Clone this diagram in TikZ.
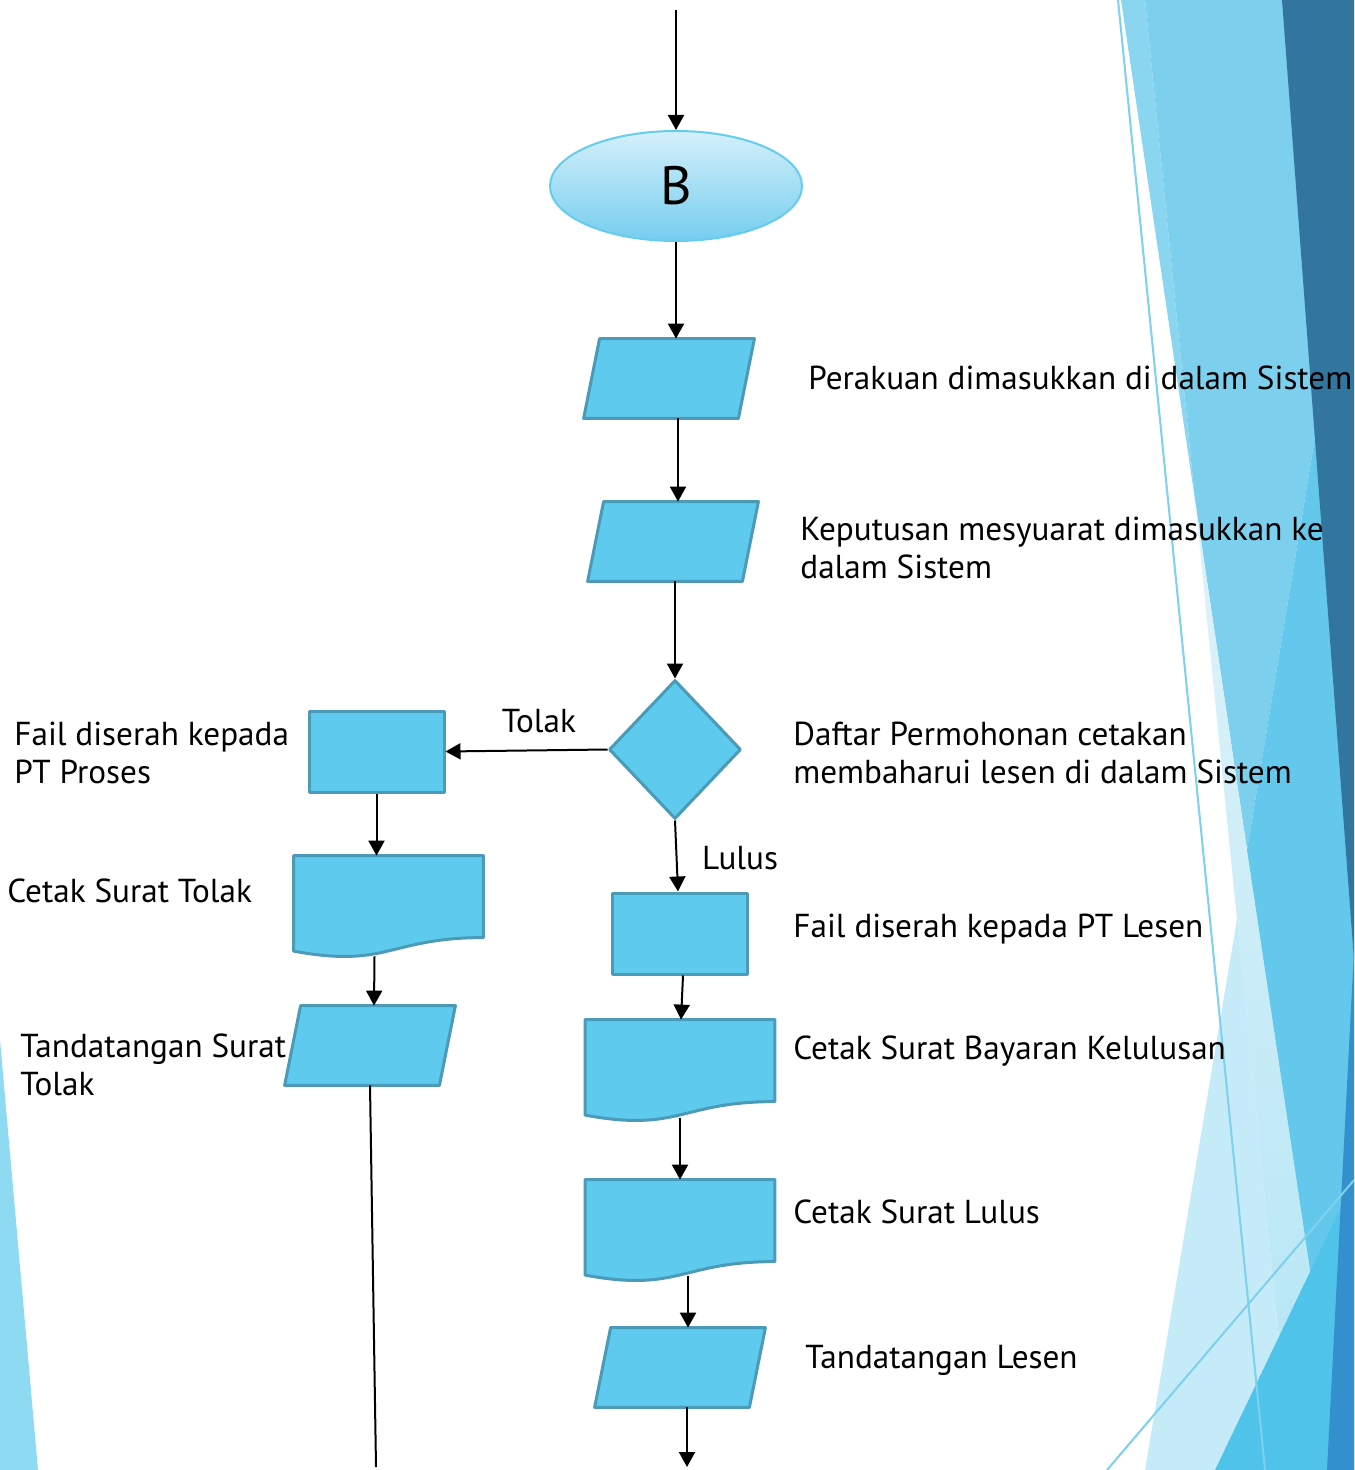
\documentclass[tikz,border=0pt]{standalone}
\usepackage{fontspec}
\setmainfont{PT Sans}
\usetikzlibrary{shapes.geometric,arrows.meta,calc}
\definecolor{boxfill}{HTML}{5ECBEE}
\definecolor{boxline}{HTML}{4A9AB8}
\definecolor{ellline}{HTML}{66CCEE}
\definecolor{elltop}{HTML}{D4F0FA}
\definecolor{ellbot}{HTML}{75CDEF}
\definecolor{bgA}{HTML}{7CCFED}
\definecolor{bgB}{HTML}{64C8EC}
\definecolor{bgT}{HTML}{8AD6F1}
\definecolor{bgP}{HTML}{DFF3FA}
\definecolor{bgLb}{HTML}{B3E5F5}
\definecolor{bgL}{HTML}{C5EBF8}
\definecolor{bgDark}{HTML}{3276A0}
\definecolor{bgD}{HTML}{3490CD}
\definecolor{bgC}{HTML}{4FC3EA}
\definecolor{bgLine}{HTML}{7DD1EE}
\definecolor{bgLeft}{HTML}{8DDAF2}
\begin{document}
\begin{tikzpicture}[x=0.5pt,y=-0.5pt,
  box/.style={draw=boxline,fill=boxfill,line width=1.5pt,line join=round,inner sep=0pt},
  rectbox/.style={box,rectangle,minimum width=67.5pt,minimum height=40.5pt},
  parbox/.style={rectangle,draw=none,inner sep=0pt,minimum width=85pt,minimum height=39.5pt},
  decbox/.style={box,diamond,minimum width=66pt,minimum height=69.5pt},
  docbox/.style={rectangle,draw=none,inner sep=0pt,minimum width=94.5pt,minimum height=51pt},
  docpath/.style={draw=boxline,fill=boxfill,line width=1.5pt,line join=round},
  lbl/.style={anchor=west,inner sep=0pt,align=left,font=\fontsize{16.6}{19}\selectfont},
  clbl/.style={inner sep=0pt,font=\fontsize{16.6}{19}\selectfont},
  conn/.style={draw=black,line width=1pt,-{Triangle[width=8pt,length=7.5pt]}},
  plain/.style={draw=black,line width=1pt}]
\path[use as bounding box] (0,0) rectangle (1354,1470);
% ---------- background decoration ----------
\begin{scope}
\clip (0,0) rectangle (1354,1470);
\fill[bgA] (1145,0) -- (1354,0) -- (1354,200) -- (1247,850) -- (1195,500) -- cycle;
\fill[bgT] (1121,0) -- (1145,0) -- (1195,500) -- cycle;
\shade[top color=bgP,bottom color=bgLb] (1195,500) -- (1247,850) -- (1340,1470) -- (1292,1470) -- cycle;
\fill[bgB] (1354,200) -- (1247,850) -- (1340,1470) -- (1354,1470) -- cycle;
\fill[bgL] (1237,919) -- (1145,1470) -- (1292,1470) -- cycle;
\fill[bgDark] (1282,0) -- (1354,0) -- (1354,960) -- cycle;
\fill[bgC] (1354,1180) -- (1215,1470) -- (1354,1470) -- cycle;
\fill[bgD] (1354,950) -- (1354,1470) -- (1327,1470) -- cycle;
\draw[bgLine,line width=1pt] (1118,0) -- (1265,1470);
\draw[bgLine,line width=1pt] (1354,1180) -- (1107,1470);
\fill[bgLeft] (0,1040) -- (38,1470) -- (0,1470) -- cycle;
\end{scope}
% ---------- flowchart nodes ----------
\coordinate (start) at (676,10);
\node[ellipse,draw=ellline,line width=1pt,top color=elltop,bottom color=ellbot,
      minimum width=126pt,minimum height=55pt,inner sep=0pt,
      font=\fontsize{27}{30}\selectfont] (B) at (676,186) {B};
\node[parbox] (p1) at (669,378.5) {};
\node[parbox] (p2) at (673,541.5) {};
\node[decbox] (dec) at (675,749.5) {};
\node[rectbox] (r1) at (376.5,751.5) {};
\node[docbox] (d1) at (388.5,907) {};
\node[parbox] (p3) at (370,1045.5) {};
\node[rectbox] (r2) at (679.5,933.5) {};
\node[docbox] (d2) at (680,1071) {};
\node[docbox] (d3) at (680,1231) {};
\node[parbox] (p4) at (680,1367.5) {};
\coordinate (endL) at (376,1467);
\coordinate (endR) at (687,1467);
% parallelogram shapes
\foreach \p in {p1,p2,p3,p4}{
  \draw[docpath] ($(\p.north west)+(16,0)$) -- (\p.north east) -- ($(\p.south east)+(-16,0)$) -- (\p.south west) -- cycle;
}
% document shapes
\foreach \d in {d1,d2,d3}{
  \draw[docpath] (\d.north west) -- (\d.north east) -- ($(\d.north east)+(0,82)$)
    .. controls ($(\d.north)+(0,82)$) and ($(\d.north)+(0,113)$) .. ($(\d.north west)+(0,95.5)$) -- cycle;
}
% ---------- labels ----------
\node[lbl] (t1) at (808,378) {Perakuan dimasukkan di dalam Sistem};
\node[lbl] (t2) at (800,548) {Keputusan mesyuarat dimasukkan ke\\dalam Sistem};
\node[lbl] (t3) at (793,753) {Daftar Permohonan cetakan\\membaharui lesen di dalam Sistem};
\node[lbl] (t4) at (14,753) {Fail diserah kepada\\PT Proses};
\node[lbl] (t5) at (7,891) {Cetak Surat Tolak};
\node[lbl] (t6) at (20,1065) {Tandatangan Surat\\Tolak};
\node[lbl] (t7) at (793,929) {Fail diserah kepada PT Lesen};
\node[lbl] (t8) at (793,1051) {Cetak Surat Bayaran Kelulusan};
\node[lbl] (t9) at (793,1212) {Cetak Surat Lulus};
\node[lbl] (t10) at (805,1360) {Tandatangan Lesen};
\node[clbl] (tolak) at (539,721) {Tolak};
\node[clbl] (lulus) at (740,858) {Lulus};
% ---------- connectors ----------
\draw[conn] (start) -- (B.north);
\draw[conn] (B.south) -- (B.south |- p1.north);
\draw[conn] ($(p1.south)+(9,0)$) -- ($(p2.north)+(5,0)$);
\draw[conn] ($(p2.south)+(2,0)$) -- (dec.north);
\draw[conn] (dec.west) -- (r1.east);
\draw[conn] (r1.south) -- ($(d1.north)+(-12,0)$);
\draw[conn] ($(d1.south)+(-14,-2)$) -- ($(p3.north)+(4,0)$);
\draw[plain] (p3.south) -- (endL);
\draw[conn] (dec.south) -- ($(r2.north)+(-1.5,0)$);
\draw[conn] ($(r2.south)+(3.5,0)$) -- ($(d2.north)+(1,0)$);
\draw[conn] ($(d2.south)+(0,-4)$) -- (d3.north);
\draw[conn] ($(d3.south)+(8,-6)$) -- ($(p4.north)+(8,0)$);
\draw[conn] (p4.south -| endR) -- (endR);
\end{tikzpicture}
\end{document}
